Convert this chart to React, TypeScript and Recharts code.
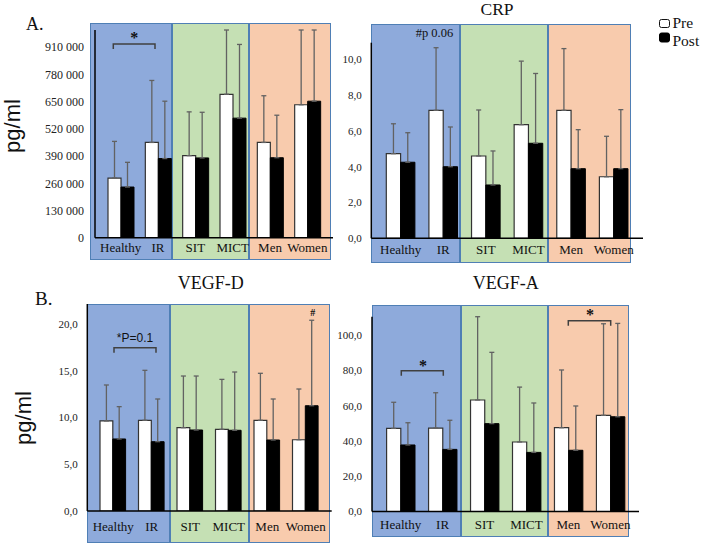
import React from "react";
import { BarChart, Bar, XAxis, YAxis, ErrorBar } from "recharts";

const groups = ["Healthy", "IR", "SIT", "MICT", "Men", "Women"];

// panel A (pg/ml, large values) - some error bars run off the top of the axis
const aPre = [285000, 455000, 392000, 685000, 455000, 635000];
const aPost = [242000, 378000, 381000, 571000, 382000, 652000];
const aPreErr = [175000, 296000, 209000, 307000, 223000, 357000];
const aPostErr = [118000, 274000, 218000, 352000, 203000, 340000];
const aTicks = [0, 130000, 260000, 390000, 520000, 650000, 780000, 910000];

// CRP
const crpPre = [4.73, 7.15, 4.6, 6.35, 7.15, 3.44];
const crpPost = [4.25, 4.0, 2.98, 5.31, 3.89, 3.89];
const crpPreErr = [1.67, 3.5, 2.57, 3.55, 3.45, 2.26];
const crpPostErr = [1.65, 2.22, 1.9, 3.9, 2.18, 3.3];
const crpTicks = [0, 2, 4, 6, 8, 10];

// VEGF-D
const vdPre = [9.64, 9.71, 8.92, 8.74, 9.71, 7.63];
const vdPost = [7.71, 7.42, 8.67, 8.64, 7.6, 11.27];
const vdPreErr = [3.85, 5.35, 5.53, 5.35, 5.03, 5.43];
const vdPostErr = [3.46, 4.57, 5.78, 6.24, 4.39, 9.15];
const vdTicks = [0, 5, 10, 15, 20];

// VEGF-A
const vaPre = [47.1, 47.3, 63.2, 39.4, 47.5, 54.5];
const vaPost = [37.7, 35.2, 49.8, 33.5, 34.7, 53.7];
const vaPreErr = [14.8, 20.0, 47.2, 31.1, 32.7, 51.9];
const vaPostErr = [12.6, 16.5, 40.4, 28.0, 25.1, 52.9];
const vaTicks = [0, 20, 40, 60, 80, 100];

const SERIF = '"Liberation Serif", "Times New Roman", serif';
const SANS = '"Liberation Sans", Arial, sans-serif';

const BLUE = "#8eaadb";
const GREEN = "#c5e0b4";
const ORANGE = "#f8cbad";

function makeRows(pre: number[], post: number[], preErr: number[], postErr: number[]) {
  return groups.map((g, i) => ({
    group: g,
    pre: pre[i],
    post: post[i],
    preErr: [0, preErr[i]],
    postErr: [0, postErr[i]],
  }));
}

const thousands = (v: number) => (v === 0 ? "0" : `${Math.round(v / 1000)}\u00a0000`);
const comma = (v: number) => v.toFixed(1).replace(".", ",");

type PanelProps = {
  rows: any[];
  axisX: number;
  top: number;
  bottom: number;
  right: number;
  pad: number;
  barSize: number;
  yMax: number;
  ticks: number[];
  fmt: (v: number) => string;
  tickFont: number;
  yGap: number;
  xGap: number;
};

function Panel(p: PanelProps) {
  const yw = 80;
  const xh = 30;
  return (
    <div style={{ position: "absolute", left: 0, top: 0 }}>
      <BarChart
        width={708}
        height={543}
        data={p.rows}
        margin={{ top: p.top, left: p.axisX - yw, right: 708 - p.right, bottom: 543 - p.bottom - xh }}
        barGap={0}
        barSize={p.barSize}
      >
        <XAxis
          dataKey="group"
          height={xh}
          padding={{ left: p.pad, right: p.pad }}
          axisLine={{ stroke: "#000", strokeWidth: 1.5 }}
          tickLine={false}
          tickSize={0}
          tickMargin={p.xGap}
          interval={0}
          tick={{ fill: "#111", fontSize: 13, fontFamily: SERIF }}
        />
        <YAxis
          width={yw}
          domain={[0, p.yMax]}
          ticks={p.ticks}
          allowDataOverflow
          tickFormatter={p.fmt}
          axisLine={{ stroke: "#000", strokeWidth: 1.5 }}
          tickLine={false}
          tickSize={0}
          tickMargin={p.yGap}
          tick={{ fill: "#222", fontSize: p.tickFont, fontFamily: SERIF }}
        />
        <Bar dataKey="pre" fill="#fff" stroke="#333" strokeWidth={1.2} isAnimationActive={false}>
          <ErrorBar dataKey="preErr" direction="y" width={2.5} stroke="#626262" strokeWidth={1.3} isAnimationActive={false} />
        </Bar>
        <Bar dataKey="post" fill="#000" stroke="#000" strokeWidth={1} isAnimationActive={false}>
          <ErrorBar dataKey="postErr" direction="y" width={2.5} stroke="#626262" strokeWidth={1.3} isAnimationActive={false} />
        </Bar>
      </BarChart>
    </div>
  );
}

function Boxes({ xs, top, bottom }: { xs: number[]; top: number; bottom: number }) {
  const fills = [BLUE, GREEN, ORANGE];
  return (
    <>
      {fills.map((f, i) => (
        <div
          key={i}
          style={{
            position: "absolute",
            left: xs[i],
            top,
            width: xs[i + 1] - xs[i],
            height: bottom - top,
            background: f,
            border: "1.3px solid #4f7fb5",
            boxSizing: "border-box",
          }}
        />
      ))}
    </>
  );
}

const bracket = (x1: number, x2: number, y: number) => `M${x1} ${y + 5} V${y} H${x2} V${y + 5}`;

export default function App() {
  return (
    <div style={{ position: "absolute", left: 0, top: 0, width: 708, height: 543, background: "#fff", overflow: "hidden" }}>
      <Boxes xs={[90, 172, 249, 331]} top={23} bottom={260} />
      <Boxes xs={[371, 460, 548, 631]} top={24} bottom={263} />
      <Boxes xs={[87, 170, 249, 330]} top={304} bottom={543} />
      <Boxes xs={[372, 461, 548, 629]} top={305} bottom={537} />

      <Panel rows={makeRows(aPre, aPost, aPreErr, aPostErr)} axisX={95} top={30} bottom={237.7} right={333}
        pad={7} barSize={13} yMax={992000} ticks={aTicks} fmt={thousands} tickFont={12} yGap={11} xGap={5} />
      <Panel rows={makeRows(crpPre, crpPost, crpPreErr, crpPostErr)} axisX={371.3} top={42.7} bottom={238.3} right={643}
        pad={8} barSize={14.3} yMax={10.93} ticks={crpTicks} fmt={comma} tickFont={11} yGap={9.6} xGap={6} />
      <Panel rows={makeRows(vdPre, vdPost, vdPreErr, vdPostErr)} axisX={87.3} top={304} bottom={511} right={331.7}
        pad={6.7} barSize={12.8} yMax={22.16} ticks={vdTicks} fmt={comma} tickFont={11} yGap={9.6} xGap={11} />
      <Panel rows={makeRows(vaPre, vaPost, vaPreErr, vaPostErr)} axisX={372} top={316.7} bottom={511.5} right={639}
        pad={7.6} barSize={14.2} yMax={110.4} ticks={vaTicks} fmt={comma} tickFont={11} yGap={10} xGap={8} />

      <svg width={708} height={543} style={{ position: "absolute", left: 0, top: 0 }}>
        <text x={26} y={30} fontSize={18} fontFamily={SERIF} fill="#111">A.</text>
        <text x={35} y={305} fontSize={19} fontFamily={SERIF} fill="#111">B.</text>
        <text transform="translate(20,126) rotate(-90)" textAnchor="middle" fontSize={22} fontFamily={SANS} fill="#111">pg/ml</text>
        <text transform="translate(31,418) rotate(-90)" textAnchor="middle" fontSize={22} fontFamily={SANS} fill="#111">pg/ml</text>

        <text x={497} y={14.5} textAnchor="middle" fontSize={17.5} fontFamily={SERIF} fill="#111">CRP</text>
        <text x={210.7} y={289.3} textAnchor="middle" fontSize={18} fontFamily={SERIF} fill="#111">VEGF-D</text>
        <text x={505.7} y={289.3} textAnchor="middle" fontSize={18} fontFamily={SERIF} fill="#111">VEGF-A</text>

        <g fill="none" stroke="#404040" strokeWidth={1.5}>
          <path d={bracket(113.3, 155, 44)} />
          <path d={bracket(114, 156, 347.7)} />
          <path d={bracket(401.3, 443.3, 370.7)} />
          <path d={bracket(568.3, 610.7, 320.7)} />
        </g>
        <g fontFamily={SERIF} fontWeight="bold" fontSize={16} fill="#111" textAnchor="middle">
          <text x={134.3} y={43}>*</text>
          <text x={423} y={371}>*</text>
          <text x={590} y={320}>*</text>
        </g>
        <text x={135} y={342.3} textAnchor="middle" fontSize={12} fontFamily={SANS} fill="#111">*P=0.1</text>
        <text x={312.7} y={316} textAnchor="middle" fontSize={10} fontWeight="bold" fontFamily={SERIF} fill="#111">#</text>
        <text x={415.7} y={36.7} fontSize={12.5} fontFamily={SERIF} fill="#111">#p 0.06</text>

        <rect x={659.5} y={19.5} width={10} height={8} rx={2} fill="#fff" stroke="#111" strokeWidth={1} />
        <rect x={659.5} y={33} width={10} height={9} rx={2} fill="#000" stroke="#000" strokeWidth={1} />
        <text x={672.5} y={27.5} fontSize={15.5} fontFamily={SERIF} fill="#111">Pre</text>
        <text x={672.5} y={46} fontSize={15.5} fontFamily={SERIF} fill="#111">Post</text>
      </svg>
    </div>
  );
}
